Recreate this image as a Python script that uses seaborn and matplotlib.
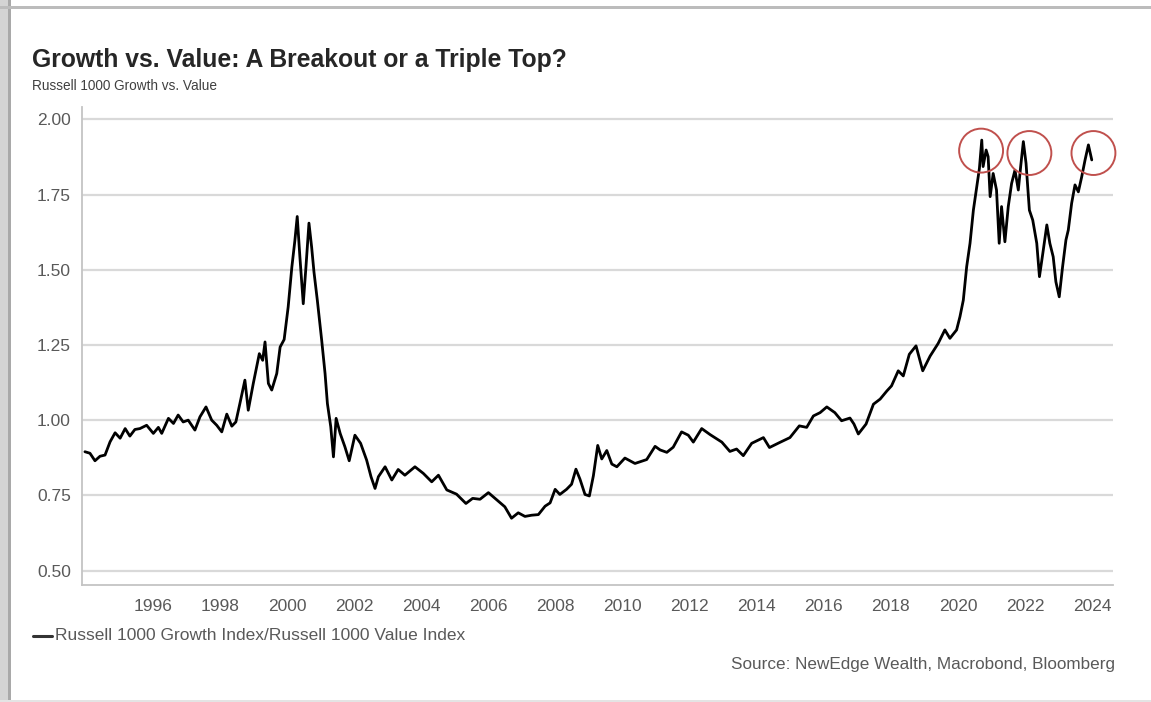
import matplotlib
matplotlib.use("Agg")
import matplotlib.pyplot as plt
from matplotlib.patches import Rectangle
from matplotlib.lines import Line2D
import seaborn as sns
import pandas as pd

# ---------------- data ----------------
years = [
    1993.97, 1994.12, 1994.27, 1994.42, 1994.57, 1994.72, 1994.87, 1995.02, 1995.17, 1995.31,
    1995.46, 1995.61, 1995.81, 1996.01, 1996.16, 1996.26, 1996.46, 1996.61, 1996.75, 1996.90,
    1997.05, 1997.25, 1997.40, 1997.58, 1997.75, 1997.90, 1998.05, 1998.20, 1998.35, 1998.47,
    1998.59, 1998.74, 1998.84, 1998.99, 1999.17, 1999.27, 1999.34, 1999.44, 1999.54, 1999.69,
    1999.79, 1999.91, 2000.03, 2000.14, 2000.23, 2000.30, 2000.38, 2000.48, 2000.56, 2000.65,
    2000.73, 2000.80, 2000.90, 2001.03, 2001.13, 2001.20, 2001.30, 2001.38, 2001.46, 2001.58,
    2001.72, 2001.85, 2002.02, 2002.19, 2002.37, 2002.50, 2002.62, 2002.72, 2002.92, 2003.12,
    2003.31, 2003.51, 2003.81, 2004.06, 2004.31, 2004.51, 2004.76, 2005.05, 2005.33, 2005.53,
    2005.75, 2006.00, 2006.25, 2006.49, 2006.69, 2006.89, 2007.09, 2007.29, 2007.49, 2007.69,
    2007.84, 2007.99, 2008.13, 2008.33, 2008.48, 2008.61, 2008.73, 2008.88, 2009.01, 2009.13,
    2009.26, 2009.38, 2009.53, 2009.68, 2009.83, 2010.07, 2010.37, 2010.72, 2010.97, 2011.12,
    2011.32, 2011.51, 2011.76, 2011.96, 2012.11, 2012.36, 2012.61, 2012.96, 2013.20, 2013.40,
    2013.60, 2013.85, 2014.20, 2014.38, 2014.69, 2014.99, 2015.27, 2015.49, 2015.69, 2015.89,
    2016.09, 2016.33, 2016.53, 2016.78, 2016.90, 2017.03, 2017.26, 2017.48, 2017.68, 2017.88,
    2018.02, 2018.22, 2018.37, 2018.55, 2018.75, 2018.95, 2019.17, 2019.41, 2019.61, 2019.76,
    2019.96, 2020.06, 2020.16, 2020.26, 2020.36, 2020.46, 2020.56, 2020.64, 2020.71, 2020.75,
    2020.84, 2020.90, 2020.96, 2021.05, 2021.15, 2021.23, 2021.30, 2021.40, 2021.50, 2021.60,
    2021.70, 2021.80, 2021.87, 2021.95, 2022.03, 2022.13, 2022.23, 2022.35, 2022.43, 2022.53,
    2022.65, 2022.74, 2022.84, 2022.92, 2023.02, 2023.12, 2023.22, 2023.29, 2023.39, 2023.49,
    2023.59, 2023.69, 2023.79, 2023.89, 2023.99,
]
ratio = [
    0.895, 0.890, 0.865, 0.880, 0.884, 0.928, 0.958, 0.940, 0.972, 0.947,
    0.969, 0.972, 0.983, 0.956, 0.976, 0.956, 1.006, 0.989, 1.017, 0.994,
    1.000, 0.967, 1.011, 1.044, 1.000, 0.983, 0.961, 1.020, 0.980, 0.994,
    1.055, 1.133, 1.033, 1.122, 1.221, 1.199, 1.260, 1.122, 1.100, 1.155,
    1.243, 1.268, 1.376, 1.509, 1.597, 1.677, 1.542, 1.387, 1.509, 1.655,
    1.575, 1.492, 1.398, 1.265, 1.155, 1.055, 0.978, 0.878, 1.006, 0.956,
    0.912, 0.865, 0.950, 0.923, 0.867, 0.812, 0.773, 0.812, 0.845, 0.801,
    0.836, 0.817, 0.845, 0.823, 0.795, 0.817, 0.768, 0.754, 0.723, 0.740,
    0.737, 0.759, 0.735, 0.712, 0.674, 0.692, 0.680, 0.684, 0.686, 0.714,
    0.725, 0.770, 0.753, 0.770, 0.787, 0.837, 0.804, 0.753, 0.748, 0.815,
    0.916, 0.871, 0.899, 0.854, 0.845, 0.874, 0.856, 0.869, 0.913, 0.901,
    0.893, 0.910, 0.961, 0.950, 0.927, 0.972, 0.952, 0.927, 0.896, 0.904,
    0.882, 0.923, 0.942, 0.909, 0.926, 0.942, 0.981, 0.976, 1.014, 1.025,
    1.044, 1.025, 0.998, 1.007, 0.987, 0.954, 0.987, 1.053, 1.070, 1.097,
    1.114, 1.164, 1.147, 1.219, 1.247, 1.164, 1.213, 1.255, 1.300, 1.272,
    1.300, 1.344, 1.399, 1.510, 1.588, 1.698, 1.776, 1.837, 1.931, 1.843,
    1.898, 1.876, 1.743, 1.820, 1.765, 1.588, 1.710, 1.593, 1.710, 1.787,
    1.831, 1.765, 1.843, 1.926, 1.854, 1.698, 1.665, 1.588, 1.477, 1.554,
    1.649, 1.588, 1.543, 1.460, 1.410, 1.510, 1.599, 1.632, 1.721, 1.782,
    1.759, 1.809, 1.865, 1.915, 1.865,
]
x_ticks = [1996, 1998, 2000, 2002, 2004, 2006, 2008, 2010, 2012, 2014, 2016, 2018, 2020, 2022, 2024]
y_ticks = [0.50, 0.75, 1.00, 1.25, 1.50, 1.75, 2.00]
circle_x = [2020.69, 2022.13, 2024.04]
circle_y = [1.896, 1.888, 1.888]

title = "Growth vs. Value: A Breakout or a Triple Top?"
subtitle = "Russell 1000 Growth vs. Value"
series_label = "Russell 1000 Growth Index/Russell 1000 Value Index"
source = "Source: NewEdge Wealth, Macrobond, Bloomberg"

# ---------------- styling ----------------
sns.set_style("white")
plt.rcParams["font.family"] = ["Liberation Sans", "DejaVu Sans"]

W, H = 1151, 702
fig = plt.figure(figsize=(W / 100, H / 100), dpi=100)
fig.patch.set_facecolor("white")


def fx(px):
    return px / W


def fy(py):
    return 1 - py / H


# page frame (screenshot border / shadow)
fig.add_artist(Rectangle((0, 0), fx(8), 1, transform=fig.transFigure,
                         facecolor="#d4d4d4", edgecolor="none", zorder=0))
fig.add_artist(Rectangle((fx(8), 0), fx(3), 1, transform=fig.transFigure,
                         facecolor="#a9a9a9", edgecolor="none", zorder=0))
fig.add_artist(Rectangle((0, fy(9)), 1, 2.5 / H, transform=fig.transFigure,
                         facecolor="#bcbcbc", edgecolor="none", zorder=0))
fig.add_artist(Rectangle((0, 0), 1, 2.5 / H, transform=fig.transFigure,
                         facecolor="#e4e4e4", edgecolor="none", zorder=0))

ax_left, ax_right, ax_top, ax_bottom = 82, 1113, 107, 585
ax = fig.add_axes([fx(ax_left), fy(ax_bottom), (ax_right - ax_left) / W, (ax_bottom - ax_top) / H])
ax.set_facecolor("none")

df = pd.DataFrame({"year": years, "ratio": ratio})
sns.lineplot(data=df, x="year", y="ratio", ax=ax, color="#000000", linewidth=2.0,
             legend=False, zorder=3)

ax.scatter(circle_x, circle_y, s=1000, facecolors="none", edgecolors="#c0504d",
           linewidths=1.4, zorder=4, clip_on=False)

ax.set_xlim(1993.883, 2024.623)
ax.set_ylim(0.452, 2.041)
ax.set_xticks(x_ticks)
ax.set_xticklabels([str(v) for v in x_ticks])
ax.set_yticks(y_ticks)
ax.set_yticklabels([f"{v:.2f}" for v in y_ticks])
ax.set_xlabel("")
ax.set_ylabel("")

ax.yaxis.grid(True, color="#d9d9d9", linewidth=1.6)
ax.xaxis.grid(False)
ax.set_axisbelow(True)

for side in ["top", "right"]:
    ax.spines[side].set_visible(False)
for side in ["left", "bottom"]:
    ax.spines[side].set_color("#c4c4c4")
    ax.spines[side].set_linewidth(1.3)

ax.tick_params(axis="y", direction="out", length=5, width=1, color="#a6a6a6",
               labelcolor="#595959", labelsize=12.5, pad=3)
ax.tick_params(axis="x", direction="out", length=5, width=1, color="#a6a6a6",
               labelcolor="#595959", labelsize=12.5, pad=5)

# texts
fig.text(fx(32), fy(60), title, fontsize=17.8, fontweight="bold", color="#262626",
         ha="left", va="center")
fig.text(fx(32), fy(86), subtitle, fontsize=9.8, color="#404040", ha="left", va="center")

fig.add_artist(Line2D([fx(33), fx(52)], [fy(636), fy(636)], transform=fig.transFigure,
                      color="#333333", linewidth=2.2))
fig.text(fx(55), fy(636), series_label, fontsize=12.5, color="#595959", ha="left", va="center")
fig.text(fx(1115), fy(665), source, fontsize=12.3, color="#595959", ha="right", va="center")

fig.savefig("out.png", dpi=100, facecolor="white")
